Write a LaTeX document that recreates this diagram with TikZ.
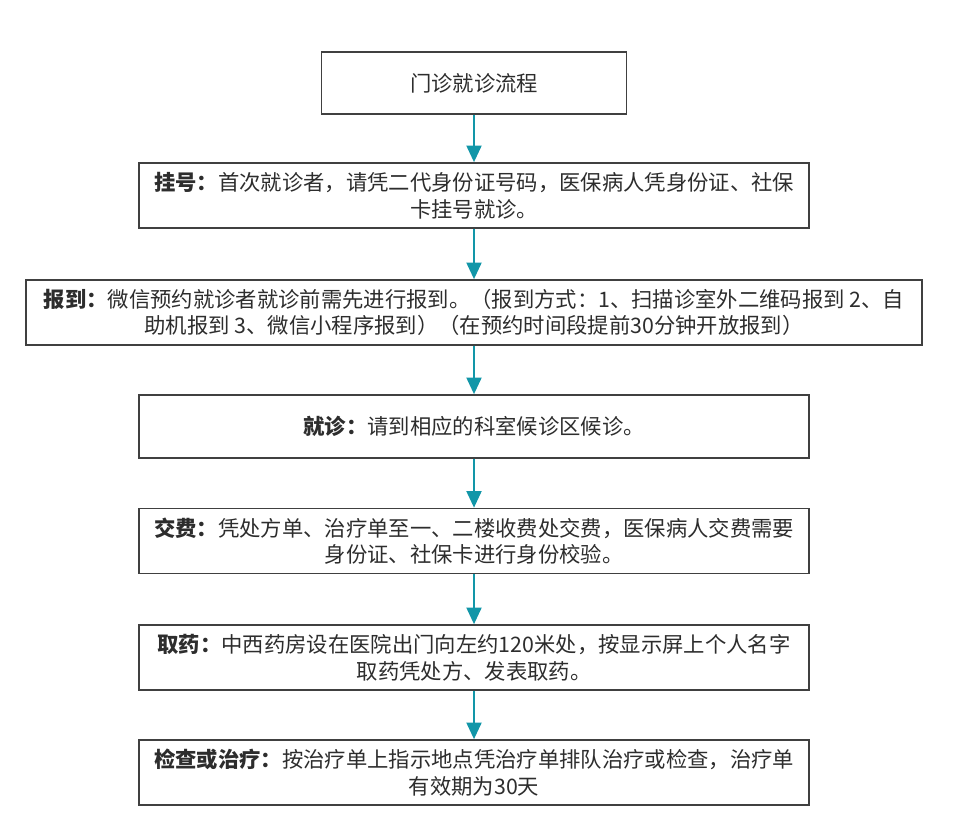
\documentclass[tikz,border=0pt]{standalone}
\usepackage{fontspec}
\setmainfont{Noto Sans CJK SC}
\usetikzlibrary{arrows.meta}
\definecolor{flowteal}{RGB}{18,150,168}
\definecolor{boxgray}{RGB}{64,64,64}
\definecolor{txtgray}{RGB}{45,45,45}

\begin{document}
\begin{tikzpicture}[x=0.75pt,y=-0.75pt,
    stepbox/.style={draw=boxgray, line width=1.1pt, fill=white, align=center,
      text=txtgray, font=\fontsize{16}{20}\selectfont, inner sep=0pt,
      minimum width=502.5pt, minimum height=48.75pt},
    flow/.style={draw=flowteal, line width=2.2pt,
      -{Triangle[length=12.5pt,width=11pt]}}]
  \def\cx{474}
  \useasboundingbox (0,0) rectangle (962,824);

  % boxes, top to bottom
  \node[stepbox, minimum width=228.75pt, minimum height=46.5pt] (title) at (\cx,83) {门诊就诊流程};
  \node[stepbox] (guahao) at (\cx,195.5)
    {\textbf{挂号：}首次就诊者，请凭二代身份证号码，医保病人凭身份证、社保\\卡挂号就诊。};
  \node[stepbox, minimum width=672pt] (baodao) at (\cx,312.5)
    {\textbf{报到：}微信预约就诊者就诊前需先进行报到。（报到方式：1、扫描诊室外二维码报到 2、自\\助机报到 3、微信小程序报到）（在预约时间段提前30分钟开放报到）};
  \node[stepbox, minimum height=47.25pt] (jiuzhen) at (\cx,426.5)
    {\textbf{就诊：}请到相应的科室候诊区候诊。};
  \node[stepbox] (jiaofei) at (\cx,541)
    {\textbf{交费：}凭处方单、治疗单至一、二楼收费处交费，医保病人交费需要\\身份证、社保卡进行身份校验。};
  \node[stepbox] (quyao) at (\cx,657.5)
    {\textbf{取药：}中西药房设在医院出门向左约120米处，按显示屏上个人名字\\取药凭处方、发表取药。};
  \node[stepbox] (jiancha) at (\cx,772.5)
    {\textbf{检查或治疗：}按治疗单上指示地点凭治疗单排队治疗或检查，治疗单\\有效期为30天};

  % connectors
  \draw[flow] (title) -- (guahao);
  \draw[flow] (guahao) -- (baodao);
  \draw[flow] (baodao) -- (jiuzhen);
  \draw[flow] (jiuzhen) -- (jiaofei);
  \draw[flow] (jiaofei) -- (quyao);
  \draw[flow] (quyao) -- (jiancha);
\end{tikzpicture}
\end{document}
